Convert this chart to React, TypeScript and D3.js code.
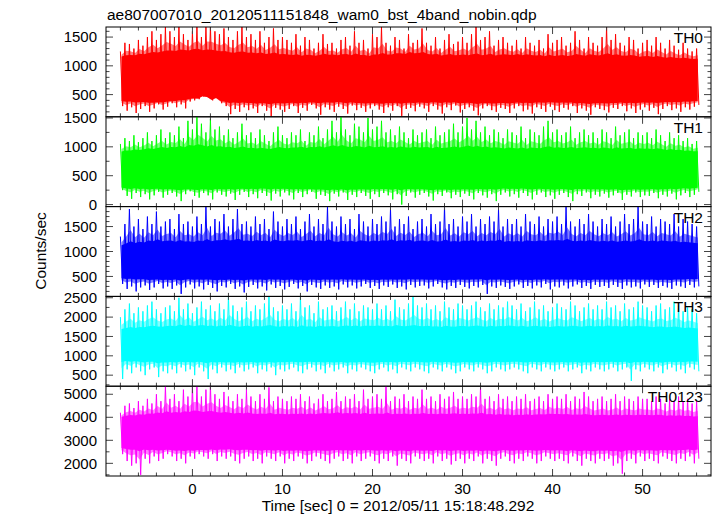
import React from "react";
import * as d3 from "d3";

const TITLE = "ae807007010_20120511151848_wam0_bst_4band_nobin.qdp";
const X_LABEL = "Time [sec] 0 = 2012/05/11 15:18:48.292";
const Y_LABEL = "Counts/sec";

const T_START = -8;
const T_STEP = 0.5;
const CORE_T_START = -8;
const CORE_T_STEP = 4;
const X_DOMAIN = [-9.6, 57.6];
const X_MAJOR = [0, 10, 20, 30, 40, 50];
const X_MINOR_STEP = 2;

const panelNames = ["TH0", "TH1", "TH2", "TH3", "TH0123"];
const panelColors = ["#ff0000", "#00ff00", "#0000ff", "#00ffff", "#ff00ff"];
const yDomains = [
  [114, 1675],
  [-35, 1520],
  [100, 1900],
  [215, 2535],
  [1450, 5350],
];
const yMajorTicks = [
  [500, 1000, 1500],
  [0, 500, 1000, 1500],
  [500, 1000, 1500],
  [500, 1000, 1500, 2000, 2500],
  [2000, 3000, 4000, 5000],
];
const yMinorSteps = [100, 250, 100, 250, 500];

// per 0.5 s bin maxima / minima (t = -8 ... 56)
const th0Hi = [1250,1400,1380,1300,1450,
  1350,1500,1600,1450,1550,1680,
  1600,1500,1680,1550,1450,1600,
  1680,1500,1680,1680,1600,1550,
  1650,1500,1450,1600,1680,1500,
  1550,1450,1600,1400,1500,1650,1450,1500,
  1450,1400,1550,1350,1500,1450,1300,1400,1550,1380,
  1400,1300,1450,1500,1350,1600,1400,1450,1300,1550,
  1500,1680,1400,1350,1500,1450,1300,1550,1400,1450,
  1650,1400,1350,1500,1300,1450,1550,1380,1420,1500,
  1400,1550,1680,1450,1500,1600,1350,1450,1500,1400,
  1350,1450,1300,1500,1400,1350,1450,1300,1550,1400,
  1450,1500,1350,1400,1600,1450,1300,1500,1400,1350,
  1500,1680,1450,1550,1400,1350,1500,1450,1300,1400,
  1450,1350,1500,1400,1300,1450,1350,1280,1400,1300,1250,1300];
const th0Lo = [300,220,280,180,250,
  300,200,260,330,240,290,
  350,280,330,260,380,400,
  420,470,460,400,440,350,
  300,160,250,200,280,230,
  260,180,300,220,120,270,240,200,
  250,300,180,270,220,320,260,150,280,240,
  200,290,250,170,310,230,270,200,260,300,
  240,180,280,220,300,130,250,270,210,290,
  260,200,300,240,170,280,230,310,190,250,
  280,220,140,260,300,230,200,270,250,180,
  260,300,210,240,170,280,250,200,290,230,
  200,270,240,300,180,260,220,150,280,250,
  230,190,270,250,300,210,260,180,240,280,
  220,270,160,250,300,230,260,200,280,240,290,320];

const th1Hi = [1050,1150,1100,1200,1080,
  1150,1250,1100,1200,1300,1150,
  1250,1200,1350,1150,1450,1300,
  1520,1400,1250,1480,1300,1350,
  1200,1300,1150,1250,1400,1200,
  1250,1150,1300,1200,1100,1250,1350,1200,
  1150,1250,1200,1300,1100,1250,1200,1350,1150,1300,
  1450,1250,1520,1300,1200,1400,1350,1250,1500,1300,
  1350,1450,1250,1300,1200,1350,1250,1150,1300,1200,
  1250,1300,1150,1350,1200,1250,1300,1400,1250,1350,
  1500,1300,1450,1250,1350,1200,1300,1250,1150,1300,
  1250,1200,1350,1150,1300,1250,1200,1350,1450,1250,
  1300,1200,1250,1350,1150,1250,1300,1200,1250,1150,
  1300,1250,1150,1350,1200,1250,1300,1150,1250,1200,
  1250,1150,1300,1200,1100,1250,1150,1200,1100,1150,1050,1100];
const th1Lo = [250,150,100,200,130,
  180,90,160,220,120,170,
  200,140,60,180,230,150,
  120,200,160,90,210,170,
  140,190,80,170,220,130,
  180,110,200,150,70,190,140,210,
  160,90,200,130,180,220,100,170,150,60,
  190,140,210,80,170,130,200,150,100,180,
  130,200,160,90,180,0,150,210,120,170,
  200,140,70,180,150,210,110,170,130,190,
  150,90,200,160,120,180,60,170,210,140,
  180,120,200,150,90,170,210,130,160,100,
  170,200,130,60,180,150,210,110,170,140,
  190,120,160,200,80,170,140,210,130,160,
  150,200,110,170,140,190,90,160,200,130,170,220];

const th2Hi = [1300,1550,1850,1500,1650,
  1450,1700,1550,1800,1500,1600,
  1650,1450,1750,1550,1600,1500,
  1700,1550,1900,1500,1650,1600,
  1750,1500,1650,1850,1550,1600,
  1500,1700,1550,1650,1450,1800,1600,1500,
  1650,1550,1700,1450,1600,1750,1500,1650,1550,1900,
  1600,1500,1700,1550,1650,1450,1750,1600,1500,1650,
  1550,1700,1600,1850,1500,1650,1550,1700,1450,1600,
  1650,1500,1750,1550,1600,1900,1550,1650,1500,1700,
  1600,1750,1500,1650,1550,1700,1600,1850,1500,1650,
  1550,1650,1500,1750,1600,1550,1700,1500,1650,1600,
  1700,1550,1900,1600,1500,1650,1550,1750,1600,1500,
  1650,1550,1700,1500,1600,1750,1550,1650,1900,1600,
  1550,1700,1500,1650,1600,1550,1750,1500,1650,1600,1550,1500];
const th2Lo = [350,250,300,200,280,
  320,230,280,350,260,300,
  250,320,150,280,340,260,
  300,240,330,270,200,310,
  280,350,250,300,180,290,
  330,260,300,220,340,270,310,240,
  290,350,260,310,200,330,280,250,320,270,
  300,240,340,280,320,260,300,350,270,310,
  250,320,290,340,270,300,240,330,280,310,
  320,260,300,350,280,240,310,270,330,290,
  260,310,280,330,150,300,270,320,290,250,
  300,340,270,310,260,320,280,350,240,300,
  280,320,260,300,340,270,310,250,330,290,
  310,270,330,290,250,320,280,300,260,340,
  290,330,270,310,280,250,320,300,270,330,280,300];

const th3Hi = [2000,2200,2350,2100,2250,
  2150,2300,2400,2200,2100,2250,
  2300,2150,2500,2200,2350,2100,
  2250,2400,2200,2300,2150,2350,
  2200,2535,2300,2150,2250,2400,
  2150,2300,2200,2350,2535,2250,2150,2300,
  2200,2350,2150,2535,2250,2300,2100,2400,2200,2250,
  2300,2150,2250,2400,2200,2350,2150,2300,2250,2200,
  2350,2200,2300,2150,2450,2250,2200,2350,2535,2300,
  2250,2350,2200,2300,2150,2400,2250,2200,2350,2300,
  2200,2300,2400,2250,2150,2350,2200,2300,2250,2400,
  2300,2200,2350,2150,2250,2400,2200,2300,2150,2250,
  2350,2250,2200,2400,2300,2150,2250,2350,2200,2300,
  2200,2400,2250,2300,2150,2350,2200,2250,2400,2300,
  2250,2150,2300,2350,2200,2250,2400,2300,2150,2250,2200,2100];
const th3Lo = [400,650,550,700,600,
  500,650,700,450,600,550,
  650,550,700,600,650,500,
  700,600,400,650,550,700,
  600,650,550,700,600,650,
  700,550,650,600,700,500,650,600,
  650,700,600,550,650,700,600,650,550,700,
  600,650,700,550,650,600,700,650,600,550,
  650,700,600,650,550,700,650,600,700,650,
  600,550,700,650,600,700,650,550,600,700,
  650,600,700,650,550,600,700,650,600,650,
  700,650,600,550,700,650,600,700,650,600,
  650,700,600,650,700,550,650,600,700,650,
  600,650,700,600,650,700,350,650,600,700,
  650,600,700,550,650,700,600,650,550,700,650,600];

const th0123Hi = [4200,4500,4600,4400,4700,
  4500,4800,4600,5000,4700,5350,
  4800,5000,4700,5200,4900,5350,
  5350,4900,5200,5350,5000,4800,
  5100,4900,4700,5000,4800,5200,
  4900,4700,5000,4800,5300,4700,4900,4800,
  4700,4900,4800,5000,4700,4900,4600,4800,5000,4700,
  4800,5100,4700,4900,4800,5000,4700,5200,4800,4900,
  5000,4800,5350,4700,4900,4800,5000,4700,4900,4800,
  5200,4800,4900,4700,5000,4800,4900,5100,4800,4900,
  4800,5000,4900,5300,4800,4900,4700,5000,4800,4900,
  4700,4900,4800,5000,4700,4800,4900,4700,5000,4800,
  4900,4800,5000,4700,4900,4800,5100,4900,4700,4800,
  4900,4700,4800,5000,4700,4900,4800,4700,4900,4800,
  4800,4700,4900,4800,4600,4800,4700,4900,4700,4800,4600,4700];
const th0123Lo = [2400,2100,1900,2000,1500,
  2200,2000,2300,2100,2200,2400,
  2300,2100,2200,2000,2300,2200,
  2400,2300,2200,2400,2100,2300,
  2200,2300,2100,2000,2200,2300,
  2100,2200,2000,2300,2200,2100,2300,2000,
  2200,2100,2300,2200,2000,2100,2300,2200,2100,2000,
  2200,2300,2100,2200,2000,2300,2100,2200,2300,2100,
  2000,2200,2100,2300,1900,2200,2100,2000,2300,2200,
  2100,2200,2000,2300,2100,2200,1950,2100,2200,2000,
  2200,2100,2300,2000,2200,2100,1900,2200,2300,2100,
  2000,2200,2100,2300,2200,2000,2100,2300,2200,2100,
  2200,2100,2000,2300,2100,1900,2200,2100,2000,2200,
  2100,2200,1900,2000,1550,2100,2200,2000,2300,2100,
  2200,2100,2000,2300,2200,2100,2000,2200,2100,2300,2000,2200];

// dense core of each band, every 4 s (t = -8 ... 56)
const th0CoreHi = [1150,1200,1250,1200,1180,1150,1170,1150,1200,1160,1150,1170,1140,1160,1150,1120,1100];
const th0CoreLo = [400,370,440,380,360,370,380,360,370,380,360,370,380,360,370,380,400];
const th1CoreHi = [900,950,980,960,940,960,970,950,960,950,960,940,950,950,940,930,900];
const th1CoreLo = [300,280,270,280,290,280,270,280,280,270,280,290,280,280,270,280,300];
const th2CoreHi = [1100,1170,1150,1180,1160,1170,1150,1160,1170,1150,1160,1150,1170,1160,1150,1160,1120];
const th2CoreLo = [480,450,460,450,460,450,460,450,460,450,460,450,460,450,460,450,470];
const th3CoreHi = [1650,1700,1720,1700,1700,1690,1700,1710,1700,1690,1700,1700,1690,1700,1700,1680,1650];
const th3CoreLo = [900,860,870,860,860,870,860,860,870,860,860,870,860,860,870,860,880];
const th0123CoreHi = [4000,4100,4150,4100,4050,4050,4100,4050,4050,4050,4050,4000,4050,4000,4000,4000,3950];
const th0123CoreLo = [2700,2620,2600,2650,2620,2600,2620,2620,2600,2620,2600,2620,2620,2600,2620,2620,2650];

const hiSeries = [th0Hi, th1Hi, th2Hi, th3Hi, th0123Hi];
const loSeries = [th0Lo, th1Lo, th2Lo, th3Lo, th0123Lo];
const coreHiSeries = [th0CoreHi, th1CoreHi, th2CoreHi, th3CoreHi, th0123CoreHi];
const coreLoSeries = [th0CoreLo, th1CoreLo, th2CoreLo, th3CoreLo, th0123CoreLo];

const W = 717;
const H = 516;
const LEFT = 106;
const RIGHT = 711;
const TOP = 27;
const PANEL_H = 89.8;
const FONT = "'Liberation Sans', Arial, Helvetica, sans-serif";

type Band = { t: number; a: number; b: number };

export default function App() {
  const x = d3.scaleLinear().domain(X_DOMAIN).range([LEFT, RIGHT]);
  const xMinor = d3.range(-8, 57, X_MINOR_STEP).filter((v) => !X_MAJOR.includes(v));

  const panels = panelNames.map((name, i) => {
    const top = TOP + i * PANEL_H;
    const bottom = top + PANEL_H;
    const y = d3.scaleLinear().domain(yDomains[i]).range([bottom, top]);
    const hi = hiSeries[i];
    const lo = loSeries[i];
    const n = Math.min(hi.length, lo.length);
    const coreT = coreHiSeries[i].map((_, k) => CORE_T_START + k * CORE_T_STEP);
    const cHi = d3.scaleLinear().domain(coreT).range(coreHiSeries[i]);
    const cLo = d3.scaleLinear().domain(coreT).range(coreLoSeries[i]);

    const zig: [number, number][] = [];
    const core: Band[] = [];
    const fringe: Band[] = [];
    for (let k = 0; k < n; k++) {
      const t = T_START + k * T_STEP;
      zig.push([t, hi[k]]);
      zig.push([t + T_STEP / 2, lo[k]]);
      const baseHi = cHi(t);
      const baseLo = cLo(t);
      const ch = Math.min(hi[k], baseHi + 0.12 * (hi[k] - baseHi));
      const cl = Math.max(lo[k], baseLo - 0.12 * (baseLo - lo[k]));
      core.push({ t: t + T_STEP / 4, a: cl, b: ch });
      fringe.push({ t: t + T_STEP / 4, a: cl - 0.35 * (cl - lo[k]), b: ch + 0.35 * (hi[k] - ch) });
    }
    const line = d3
      .line<[number, number]>()
      .x((d) => x(d[0]))
      .y((d) => y(d[1]));
    const area = d3
      .area<Band>()
      .x((d) => x(d.t))
      .y0((d) => y(d.a))
      .y1((d) => y(d.b));

    const yMin = Math.ceil(yDomains[i][0] / yMinorSteps[i]) * yMinorSteps[i];
    const yMinor = d3
      .range(yMin, yDomains[i][1], yMinorSteps[i])
      .filter((v) => !yMajorTicks[i].includes(v));

    return (
      <g key={name}>
        <clipPath id={`clip${i}`}>
          <rect x={LEFT} y={top} width={RIGHT - LEFT} height={PANEL_H} />
        </clipPath>
        <g clipPath={`url(#clip${i})`}>
          <path d={area(fringe) || ""} fill={panelColors[i]} opacity={0.5} />
          <path d={area(core) || ""} fill={panelColors[i]} />
          <path d={line(zig) || ""} fill="none" stroke={panelColors[i]} strokeWidth={1} />
        </g>
        {X_MAJOR.map((v) => (
          <g key={`xm${v}`} stroke="#444" strokeWidth={1}>
            <line x1={x(v)} x2={x(v)} y1={bottom} y2={bottom - 7} />
            <line x1={x(v)} x2={x(v)} y1={top} y2={top + 7} />
          </g>
        ))}
        {xMinor.map((v) => (
          <g key={`xn${v}`} stroke="#444" strokeWidth={1}>
            <line x1={x(v)} x2={x(v)} y1={bottom} y2={bottom - 3.5} />
            <line x1={x(v)} x2={x(v)} y1={top} y2={top + 3.5} />
          </g>
        ))}
        {yMajorTicks[i].map((v) => (
          <g key={`ym${v}`} stroke="#444" strokeWidth={1}>
            <line x1={LEFT} x2={LEFT + 7} y1={y(v)} y2={y(v)} />
            <line x1={RIGHT} x2={RIGHT - 7} y1={y(v)} y2={y(v)} />
          </g>
        ))}
        {yMinor.map((v) => (
          <g key={`yn${v}`} stroke="#444" strokeWidth={1}>
            <line x1={LEFT} x2={LEFT + 3.5} y1={y(v)} y2={y(v)} />
            <line x1={RIGHT} x2={RIGHT - 3.5} y1={y(v)} y2={y(v)} />
          </g>
        ))}
        {yMajorTicks[i].map((v) => (
          <text
            key={`yl${v}`}
            x={97}
            y={y(v) + 5.2}
            textAnchor="end"
            fontSize={15}
            fontFamily={FONT}
            fill="#000"
          >
            {v}
          </text>
        ))}
        <text x={703} y={top + 16} textAnchor="end" fontSize={15.5} fontFamily={FONT} fill="#000">
          {name}
        </text>
        <rect x={LEFT} y={top} width={RIGHT - LEFT} height={PANEL_H} fill="none" stroke="#000" strokeWidth={1} />
      </g>
    );
  });

  const bottomY = TOP + PANEL_H * panelNames.length;

  return (
    <svg
      width={W}
      height={H}
      viewBox={`0 0 ${W} ${H}`}
      style={{ position: "absolute", left: 0, top: 0, background: "#fff" }}
    >
      <rect x={0} y={0} width={W} height={H} fill="#fff" />
      <text x={107} y={20} fontSize={15.5} fontFamily={FONT} fill="#000">
        {TITLE}
      </text>
      {panels}
      {X_MAJOR.map((v) => (
        <text
          key={`xl${v}`}
          x={x(v)}
          y={bottomY + 18}
          textAnchor="middle"
          fontSize={15}
          fontFamily={FONT}
          fill="#000"
        >
          {v}
        </text>
      ))}
      <text x={398} y={511} textAnchor="middle" fontSize={15.5} fontFamily={FONT} fill="#000">
        {X_LABEL}
      </text>
      <text
        transform={`translate(46, 251) rotate(-90)`}
        textAnchor="middle"
        fontSize={15.5}
        fontFamily={FONT}
        fill="#000"
      >
        {Y_LABEL}
      </text>
    </svg>
  );
}
